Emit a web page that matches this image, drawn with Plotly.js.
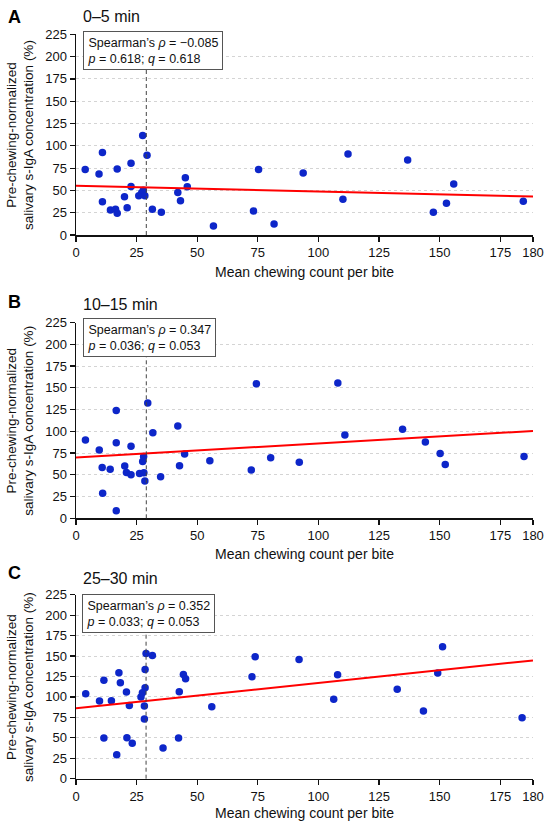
<!DOCTYPE html>
<html>
<head>
<meta charset="utf-8">
<script src="https://cdn.plot.ly/plotly-3.0.1.min.js"></script>
<style>
  html, body { margin: 0; padding: 0; background: #fff; }
  #chart { width: 550px; height: 827px; }
</style>
</head>
<body>
<div id="chart"></div>
<script>
// ---- Data ----
const panelLetters = ["A", "B", "C"];
const panelTitles = ["0\u20135 min", "10\u201315 min", "25\u201330 min"];

const xA = [3.8, 9.5, 10.9, 10.9, 14.2, 16.3, 17.0, 17.0, 20.0, 21.1, 22.7, 22.7, 25.9, 27.1, 27.5, 27.8, 28.4, 29.3,
            31.5, 35.2, 42.0, 43.1, 45.1, 45.9, 56.7, 73.2, 75.3, 81.7, 93.7, 110.1, 112.2, 136.8, 147.4, 152.8, 155.8, 184.5];
const yA = [73.5, 68.4, 92.5, 37.4, 28.0, 28.9, 24.3, 74.0, 43.0, 30.6, 80.4, 54.4, 44.1, 47.4, 111.5, 50.1, 44.1, 89.5,
            29.0, 25.4, 47.6, 38.3, 64.3, 54.2, 10.1, 26.9, 73.5, 12.3, 69.5, 40.0, 90.8, 84.1, 25.4, 35.5, 57.2, 37.7];

const xB = [3.9, 9.6, 10.8, 11.0, 14.1, 16.6, 16.6, 16.6, 20.1, 20.8, 22.7, 22.7, 26.2, 27.5, 27.9, 28.0, 28.4, 29.6,
            31.7, 34.9, 42.0, 42.7, 44.8, 55.2, 72.3, 74.4, 80.3, 92.1, 108.0, 110.9, 134.7, 144.1, 150.2, 152.3, 184.8];
const yB = [90.0, 78.5, 58.5, 28.7, 56.5, 124.0, 86.7, 8.6, 60.0, 52.7, 82.8, 50.0, 51.5, 65.2, 71.0, 52.3, 42.8, 132.5,
            98.2, 47.7, 106.0, 60.3, 73.8, 66.2, 55.5, 154.5, 69.5, 64.4, 155.6, 95.7, 102.2, 87.6, 74.4, 61.8, 70.9];

const xC = [4.0, 9.7, 11.5, 11.5, 14.6, 16.8, 17.7, 18.3, 20.8, 21.0, 22.0, 23.2, 26.8, 27.4, 28.2, 28.2, 28.5, 28.5, 28.9,
            31.5, 35.9, 42.6, 42.3, 44.3, 45.2, 56.0, 72.6, 73.9, 79.9, 92.0, 106.3, 107.9, 132.5, 143.3, 149.2, 151.2, 184.0];
const yC = [103.8, 94.9, 120.5, 49.7, 95.3, 29.3, 129.5, 117.3, 105.9, 50.1, 89.6, 43.2, 99.8, 105.0, 72.9, 88.8, 111.2, 133.6, 153.1,
            150.7, 37.5, 106.3, 49.7, 127.4, 122.1, 88.0, 124.6, 149.0, 229.6, 145.8, 97.3, 127.0, 109.5, 82.7, 129.1, 161.2, 74.5];

const fitIntercept = [55.3, 69.8, 86.0];
const fitSlope = [-0.065, 0.162, 0.311];
const medianChew = [29, 29, 28.9];
const statLine1 = ["Spearman\u2019s <i>\u03c1</i> = \u22120.085", "Spearman\u2019s <i>\u03c1</i> = 0.347", "Spearman\u2019s <i>\u03c1</i> = 0.352"];
const statLine2 = ["<i>p</i> = 0.618; <i>q</i> = 0.618", "<i>p</i> = 0.036; <i>q</i> = 0.053", "<i>p</i> = 0.033; <i>q</i> = 0.053"];

const xMax = 188.5;
const xTickVals = [0, 25, 50, 75, 100, 125, 150, 175, 188.5];
const xTickText = ["0", "25", "50", "75", "100", "125", "150", "175", "180"];
const yTickVals = [0, 25, 50, 75, 100, 125, 150, 175, 200, 225];
const xTitle = "Mean chewing count per bite";
const yTitle = "Pre-chewing-normalized<br>salivary s-IgA concentration (%)";

// ---- Layout geometry ----
const W = 550, H = 827;
const xDom = [76 / W, 533 / W];
const yDoms = [[1 - 235 / H, 1 - 34.3 / H], [1 - 518.3 / H, 1 - 322.5 / H], [1 - 778.7 / H, 1 - 594.7 / H]];
const letterY = [17, 301.7, 573];
const titleY = [16.5, 304, 578.7];
const boxTop = [31, 318.3, 593.5];
const boxLeft = [83, 82.7, 82.3];
const xTitleY = [272, 554, 813];

const FONT = "Liberation Sans, Arial, sans-serif";
const xs = [xA, xB, xC], ys = [yA, yB, yC];

const traces = [];
const layout = {
  width: W, height: H,
  margin: {l: 0, r: 0, t: 0, b: 0},
  paper_bgcolor: "#fff", plot_bgcolor: "#fff",
  showlegend: false,
  font: {family: FONT, size: 13, color: "#111"},
  annotations: [], shapes: []
};

for (let i = 0; i < 3; i++) {
  const sfx = i === 0 ? "" : String(i + 1);
  const xa = "x" + sfx, ya = "y" + sfx;
  traces.push({
    type: "scatter", mode: "markers", x: xs[i], y: ys[i],
    xaxis: xa, yaxis: ya, cliponaxis: false,
    marker: {color: "#0d26c9", size: 7.5, line: {width: 0}}
  });
  traces.push({
    type: "scatter", mode: "lines",
    x: [0, xMax], y: [fitIntercept[i], fitIntercept[i] + fitSlope[i] * xMax],
    xaxis: xa, yaxis: ya,
    line: {color: "#ff0000", width: 2}
  });
  layout["xaxis" + sfx] = {
    domain: xDom, anchor: ya, range: [0, xMax],
    tickmode: "array", tickvals: xTickVals, ticktext: xTickText,
    ticks: "outside", ticklen: 5, tickwidth: 1.2, tickcolor: "#111",
    showline: true, linecolor: "#111", linewidth: 1.5,
    showgrid: false, zeroline: false,
    tickfont: {family: FONT, size: 13, color: "#111"}
  };
  layout["yaxis" + sfx] = {
    domain: yDoms[i], anchor: xa, range: [0, 225],
    tickmode: "array", tickvals: yTickVals,
    ticks: "outside", ticklen: 5, tickwidth: 1.2, tickcolor: "#111",
    showline: true, linecolor: "#111", linewidth: 1.5,
    showgrid: true, gridcolor: "#d4d4d4", gridwidth: 1, griddash: "3px,3px",
    zeroline: false,
    tickfont: {family: FONT, size: 13, color: "#111"}
  };
  layout.shapes.push({
    type: "line", xref: xa, yref: ya + " domain",
    x0: medianChew[i], x1: medianChew[i], y0: 0, y1: 1,
    line: {color: "#444", width: 1, dash: "4px,3px"}
  });
  // panel letter
  layout.annotations.push({
    xref: "paper", yref: "paper", x: 14.5 / W, y: 1 - letterY[i] / H,
    xanchor: "center", yanchor: "middle", showarrow: false,
    text: "<b>" + panelLetters[i] + "</b>", font: {family: FONT, size: 18, color: "#000"}
  });
  // panel title
  layout.annotations.push({
    xref: "paper", yref: "paper", x: 81 / W, y: 1 - titleY[i] / H,
    xanchor: "left", yanchor: "middle", showarrow: false,
    text: panelTitles[i], font: {family: FONT, size: 16, color: "#111"}
  });
  // stats box
  layout.annotations.push({
    xref: "paper", yref: "paper", x: boxLeft[i] / W, y: 1 - boxTop[i] / H,
    xanchor: "left", yanchor: "top", showarrow: false, align: "left",
    text: statLine1[i] + "<br>" + statLine2[i],
    font: {family: FONT, size: 12.5, color: "#111"},
    bgcolor: "#fff", bordercolor: "#555", borderwidth: 1, borderpad: 3.5
  });
  // y title
  layout.annotations.push({
    xref: "paper", yref: "paper", x: 20.3 / W, y: (yDoms[i][0] + yDoms[i][1]) / 2,
    xanchor: "center", yanchor: "middle", showarrow: false, textangle: -90,
    text: yTitle, font: {family: FONT, size: 13.5, color: "#111"}
  });
  // x title
  layout.annotations.push({
    xref: "paper", yref: "paper", x: 304.5 / W, y: 1 - xTitleY[i] / H,
    xanchor: "center", yanchor: "middle", showarrow: false,
    text: xTitle, font: {family: FONT, size: 14, color: "#111"}
  });
}

Plotly.newPlot("chart", traces, layout, {staticPlot: true, displayModeBar: false});
</script>
</body>
</html>
